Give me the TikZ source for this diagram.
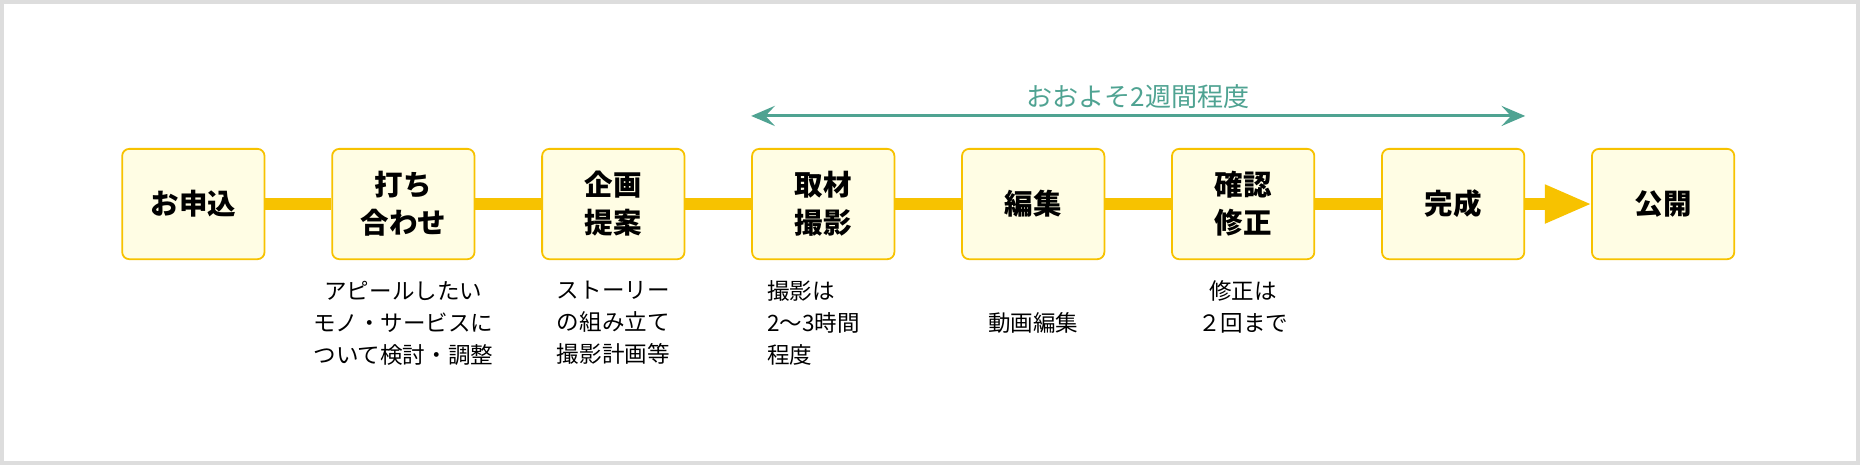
\documentclass[tikz,border=0pt]{standalone}
\usepackage{fontspec}
\setmainfont{Noto Sans CJK JP}
\usetikzlibrary{positioning,arrows.meta}
\definecolor{vyellow}{HTML}{F7C200}
\definecolor{vcream}{HTML}{FFFDE4}
\definecolor{vteal}{HTML}{4FA392}
\definecolor{vframe}{HTML}{DDDDDD}
\tikzset{
  stepbox/.style={draw=vyellow, line width=1.5pt, fill=vcream, rounded corners=6pt,
    minimum width=120pt, minimum height=93pt, align=center, inner sep=0pt,
    font=\fontsize{24pt}{32pt}\selectfont\bfseries},
  note/.style={align=center, font=\fontsize{19pt}{27pt}\selectfont, anchor=north},
  flow/.style={vyellow, line width=10pt}
}
\begin{document}
\begin{tikzpicture}[x=1pt,y=1pt]
  \useasboundingbox (0,0) rectangle (1568,392);
  \fill[vframe] (0,0) rectangle (1568,392);
  \fill[white] (3,3) rectangle (1565,389);
  % steps
  \node[stepbox] (s1) at (163,220) {お申込};
  \node[stepbox] (s2) at (340,220) {打ち\\合わせ};
  \node[stepbox] (s3) at (517,220) {企画\\提案};
  \node[stepbox] (s4) at (694,220) {取材\\撮影};
  \node[stepbox] (s5) at (871,220) {編集};
  \node[stepbox] (s6) at (1048,220) {確認\\修正};
  \node[stepbox] (s7) at (1225,220) {完成};
  \node[stepbox] (s8) at (1402,220) {公開};
  \foreach \a/\b in {s1/s2,s2/s3,s3/s4,s4/s5,s5/s6,s6/s7}
    \draw[flow] (\a.east) -- (\b.west);
  \draw[flow, -{Triangle[length=40pt,width=30pt]}, shorten >=-1pt] (s7.east) -- (s8.west);
  % notes
  \node[note] (n2) at ([yshift=-14pt]s2.south) {アピールしたい\\モノ・サービスに\\ついて検討・調整};
  \node[note] (n3) at ([yshift=-14pt]s3.south) {ストーリー\\の組み立て\\撮影計画等};
  \node[note, align=left, anchor=north west] (n4) at ([xshift=10pt,yshift=-14pt]s4.south west) {撮影は\\2〜3時間\\程度};
  \node[note] (n5) at ([yshift=-41pt]s5.south) {動画編集};
  \node[note] (n6) at ([yshift=-14pt]s6.south) {修正は\\２回まで};
  % span
  \coordinate (p1) at ([yshift=27pt]s4.north west);
  \coordinate (p2) at ([yshift=27pt]s7.north east);
  \draw[vteal, line width=2.5pt, {Stealth[length=20pt,width=17pt,inset=8pt]}-{Stealth[length=20pt,width=17pt,inset=8pt]}] (p1) -- (p2)
    node[midway, above=2pt, font=\fontsize{22pt}{26pt}\selectfont, text=vteal] (span) {おおよそ2週間程度};
\end{tikzpicture}
\end{document}
